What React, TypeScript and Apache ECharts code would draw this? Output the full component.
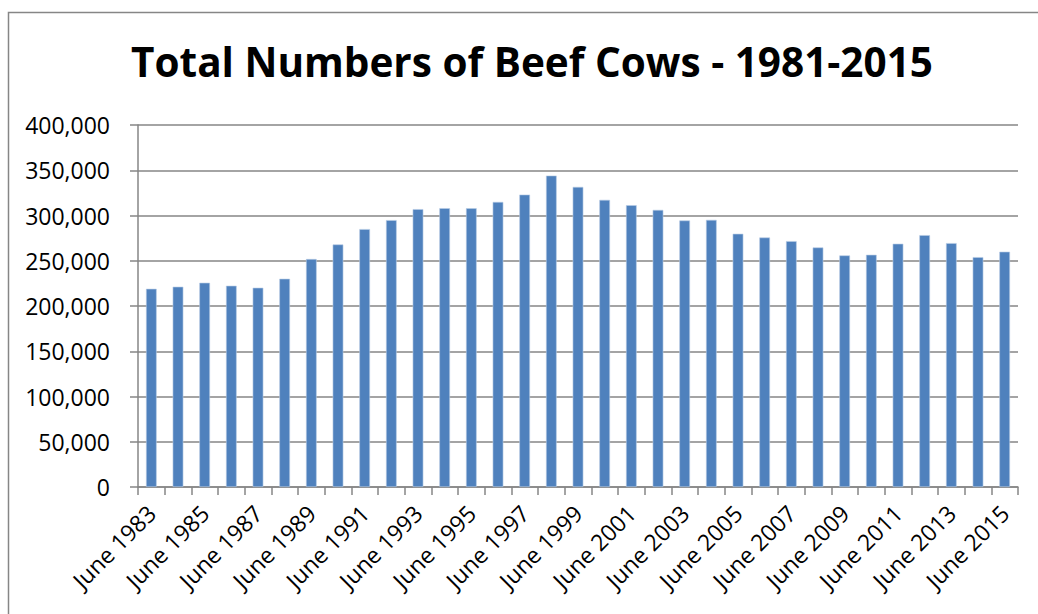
import React, { useEffect, useRef } from "react";
import * as echarts from "echarts";

const years: number[] = [
  1983, 1984, 1985, 1986, 1987, 1988, 1989, 1990, 1991, 1992, 1993, 1994, 1995, 1996, 1997, 1998, 1999,
  2000, 2001, 2002, 2003, 2004, 2005, 2006, 2007, 2008, 2009, 2010, 2011, 2012, 2013, 2014, 2015,
];
const categories: string[] = years.map((y) => `June ${y}`);
const beefCows: number[] = [
  219000, 221300, 225700, 222400, 220200, 230100, 251900, 268000, 285000, 294900, 307000, 308100, 308000,
  315000, 323100, 344100, 331600, 317300, 311400, 306200, 294500, 295200, 279800, 275700, 271700, 264700,
  255900, 256600, 268800, 278300, 269500, 254000, 260000,
];
const yTicks = { min: 0, max: 400000, interval: 50000 };
const titleText = "Total Numbers of Beef Cows - 1981-2015";

const GRAY = "#868686";
const FONT = "'Open Sans', 'Noto Sans', sans-serif";

export default function App() {
  const ref = useRef<HTMLDivElement>(null);
  useEffect(() => {
    if (!ref.current) return;
    const chart = echarts.init(ref.current, undefined, { renderer: "svg" });
    chart.setOption({
      animation: false,
      backgroundColor: "#ffffff",
      title: {
        text: titleText,
        left: 527,
        textAlign: "center",
        top: 36,
        textStyle: { fontFamily: FONT, fontWeight: "bold", fontSize: 40.5, color: "#000000" },
      },
      graphic: [
        {
          type: "polyline",
          shape: { points: [[8.5, 620], [8.5, 12.5], [1040, 12.5]] },
          style: { stroke: GRAY, lineWidth: 1.5, fill: null },
          silent: true,
        },
      ],
      grid: { left: 138, right: 20, top: 125, bottom: 127, containLabel: false },
      xAxis: {
        type: "category",
        data: categories,
        axisLine: { show: true, lineStyle: { color: GRAY, width: 1.5 } },
        axisTick: { show: true, interval: 0, length: 8, lineStyle: { color: GRAY, width: 1.5 } },
        axisLabel: {
          interval: 1,
          rotate: 45,
          margin: 22,
          fontFamily: FONT,
          fontSize: 23,
          color: "#000000",
        },
        splitLine: { show: false },
      },
      yAxis: {
        type: "value",
        min: yTicks.min,
        max: yTicks.max,
        interval: yTicks.interval,
        axisLine: { show: true, lineStyle: { color: GRAY, width: 1.5 } },
        axisTick: { show: true, length: 8, lineStyle: { color: GRAY, width: 1.5 } },
        axisLabel: {
          margin: 28,
          fontFamily: FONT,
          fontSize: 23,
          color: "#000000",
          formatter: (v: number) => v.toLocaleString("en-US"),
        },
        splitLine: { show: true, lineStyle: { color: GRAY, width: 1.5 } },
      },
      series: [
        {
          type: "bar",
          data: beefCows,
          barWidth: "40%",
          itemStyle: { color: "#4F81BD", borderColor: "#B9CDE5", borderWidth: 0.6 },
        },
      ],
    });
    return () => chart.dispose();
  }, []);
  return (
    <div
      ref={ref}
      style={{ position: "absolute", left: 0, top: 0, width: 1038, height: 614, background: "#fff" }}
    />
  );
}
